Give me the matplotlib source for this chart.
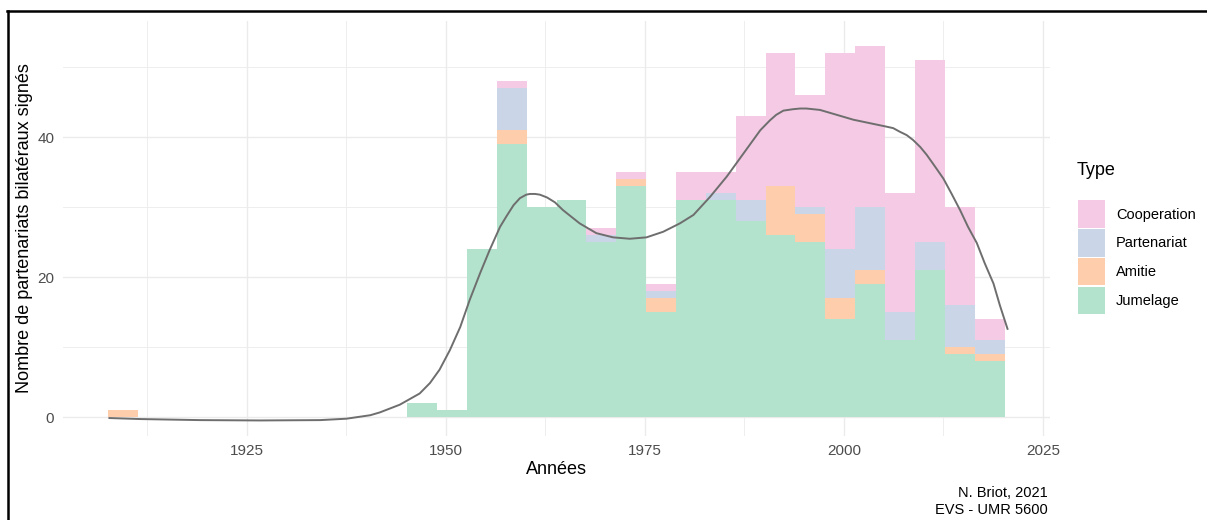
"""Histogramme empilé des partenariats bilatéraux signés par année, avec courbe lissée."""
import matplotlib
matplotlib.use('Agg')
import matplotlib.pyplot as plt
from matplotlib.patches import Rectangle
from matplotlib.lines import Line2D
from matplotlib.ticker import MultipleLocator

plt.rcParams['font.family'] = ['Liberation Sans', 'DejaVu Sans']

W, H = 1207, 520

# Histogramme : 30 classes
BIN_START = 1907.6
BIN_WIDTH = 3.753

jumelage = [0, 0, 0, 0, 0, 0, 0, 0, 0, 0,
            2, 1, 24, 39, 30, 31, 25, 33, 15, 31,
            31, 28, 26, 25, 14, 19, 11, 21, 9, 8]
amitie = [1, 0, 0, 0, 0, 0, 0, 0, 0, 0,
          0, 0, 0, 2, 0, 0, 0, 1, 2, 0,
          0, 0, 7, 4, 3, 2, 0, 0, 1, 1]
partenariat = [0, 0, 0, 0, 0, 0, 0, 0, 0, 0,
               0, 0, 0, 6, 0, 0, 1, 0, 1, 0,
               1, 3, 0, 1, 7, 9, 4, 4, 6, 2]
cooperation = [0, 0, 0, 0, 0, 0, 0, 0, 0, 0,
               0, 0, 0, 1, 0, 0, 1, 1, 1, 4,
               3, 12, 19, 16, 28, 23, 17, 26, 14, 3]

types = ['Jumelage', 'Amitie', 'Partenariat', 'Cooperation']
couleurs = {'Jumelage': '#B3E2CD', 'Amitie': '#FDCDAC',
            'Partenariat': '#CBD5E8', 'Cooperation': '#F4CAE4'}

# Courbe lissée (nombre total)
courbe_annees = [1907.6, 1911.6, 1919.1, 1926.6, 1934.2, 1937.5, 1940.5, 1941.7,
                 1944.2, 1946.7, 1948.0, 1949.2, 1950.5, 1951.8, 1953.0, 1954.3,
                 1955.5, 1956.8, 1957.6, 1958.5, 1959.3, 1960.1, 1960.55, 1961.2,
                 1961.8, 1962.7, 1963.7, 1964.7, 1966.8, 1968.9, 1971.0, 1973.1,
                 1975.2, 1977.3, 1979.4, 1981.1, 1983.2, 1985.3, 1987.4, 1989.5,
                 1990.7, 1991.5, 1992.4, 1993.6, 1994.5, 1995.3, 1997.0, 1999.1,
                 2001.2, 2003.3, 2005.4, 2006.2, 2007.0, 2007.9, 2008.7, 2009.6,
                 2010.4, 2011.4, 2012.5, 2013.5, 2014.6, 2015.6, 2016.7, 2017.7,
                 2018.8, 2019.6, 2020.6]
courbe_valeurs = [-0.1, -0.25, -0.4, -0.45, -0.4, -0.2, 0.3, 0.7,
                  1.8, 3.4, 4.9, 6.8, 9.6, 12.9, 16.8, 20.6,
                  23.9, 27.2, 28.7, 30.3, 31.3, 31.8, 31.9, 31.9,
                  31.8, 31.4, 30.7, 29.6, 27.7, 26.3, 25.7, 25.5,
                  25.7, 26.5, 27.7, 28.9, 31.5, 34.4, 37.7, 41.0,
                  42.4, 43.2, 43.8, 44.0, 44.1, 44.1, 43.9, 43.2,
                  42.5, 42.0, 41.5, 41.3, 40.8, 40.3, 39.6, 38.6,
                  37.5, 35.9, 34.1, 32.0, 29.6, 27.2, 24.9, 22.0,
                  19.1, 16.0, 12.5]

x_ticks = [1925, 1950, 1975, 2000, 2025]
y_ticks = [0, 20, 40]


def px(x, y):
    """Pixels -> coordonnées figure."""
    return x / W, 1 - y / H


fig = plt.figure(figsize=(W / 100, H / 100), dpi=100)
left, top = px(62.7, 21)
right, bottom = px(1050, 436)
ax = fig.add_axes([left, bottom, right - left, top - bottom])

bords = [BIN_START + i * BIN_WIDTH for i in range(len(jumelage))]
series = {'Jumelage': jumelage, 'Amitie': amitie,
          'Partenariat': partenariat, 'Cooperation': cooperation}
base = [0] * len(jumelage)
for t in types:
    vals = series[t]
    ax.bar(bords, vals, width=BIN_WIDTH, bottom=base, align='edge',
           color=couleurs[t], linewidth=0, zorder=2)
    base = [b + v for b, v in zip(base, vals)]

ax.plot(courbe_annees, courbe_valeurs, color='#6e6e6e', lw=1.4, zorder=3,
        solid_capstyle='butt', solid_joinstyle='round')

ax.set_xlim(1901.85, 2025.9)
ax.set_ylim(-2.67, 56.6)
ax.set_xticks(x_ticks)
ax.set_yticks(y_ticks)
ax.xaxis.set_minor_locator(MultipleLocator(12.5))
ax.yaxis.set_minor_locator(MultipleLocator(10))
ax.grid(True, which='major', color='#ebebeb', lw=1.0, zorder=0)
ax.grid(True, which='minor', color='#ebebeb', lw=0.6, zorder=0)
ax.set_axisbelow(True)
for s in ax.spines.values():
    s.set_visible(False)
ax.tick_params(which='both', length=0, labelsize=11, labelcolor='#4d4d4d')
ax.tick_params(axis='x', pad=6)
ax.tick_params(axis='y', pad=6)

ax.set_xlabel('Années', fontsize=13, labelpad=2)
ax.set_ylabel('Nombre de partenariats bilatéraux signés', fontsize=13, labelpad=3)

# Légende
fig.text(*px(1077, 171), 'Type', fontsize=13, va='center', ha='left')
legende = ['Cooperation', 'Partenariat', 'Amitie', 'Jumelage']
for i, t in enumerate(legende):
    y0 = 200.5 + i * 28.7
    x0, y1 = px(1078, y0 + 27.5)
    fig.patches.append(Rectangle((x0, y1), 27 / W, 27.5 / H, transform=fig.transFigure,
                                 facecolor=couleurs[t], edgecolor='none'))
    fig.text(*px(1116, y0 + 14), t, fontsize=10.5, va='center', ha='left')

# Source
fig.text(*px(1048, 493), 'N. Briot, 2021', fontsize=10.5, ha='right', va='center')
fig.text(*px(1048, 510), 'EVS - UMR 5600', fontsize=10.5, ha='right', va='center')

# Cadre
fig.lines.append(Line2D([7 / W, 1], [1 - 11 / H, 1 - 11 / H], transform=fig.transFigure,
                        color='black', lw=1.8))
fig.lines.append(Line2D([7.5 / W, 7.5 / W], [0, 1 - 11 / H], transform=fig.transFigure,
                        color='black', lw=1.8))

fig.savefig('out.png', dpi=100)
